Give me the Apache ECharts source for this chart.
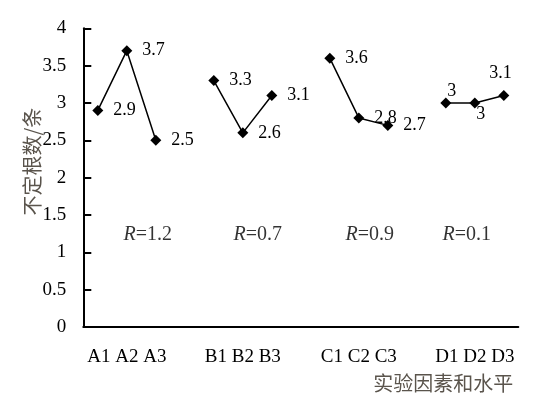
<!DOCTYPE html>
<html>
<head>
<meta charset="utf-8">
<script src="https://cdn.jsdelivr.net/npm/echarts@6/dist/echarts.min.js"></script>
<style>html,body{margin:0;padding:0;background:#fff}#c{width:550px;height:398px}</style>
</head>
<body>
<div id="c"></div>
<script>
// ---- data ----
const levels = ['A1','A2','A3','B1','B2','B3','C1','C2','C3','D1','D2','D3'];
const values = [2.9, 3.7, 2.5, 3.3, 2.6, 3.1, 3.6, 2.8, 2.7, 3, 3, 3.1];
const groupLabels = ['A1 A2 A3', 'B1 B2 B3', 'C1 C2 C3', 'D1 D2 D3'];
const rValues = [1.2, 0.7, 0.9, 0.1];
const yTicks = [0, 0.5, 1, 1.5, 2, 2.5, 3, 3.5, 4];

// ---- build 15-slot category axis (gap slot between factors) ----
const slots = [], slotVals = [], tickLabels = [];
levels.forEach((lv, i) => {
  if (i > 0 && i % 3 === 0) { slots.push('gap' + i); slotVals.push(null); tickLabels.push(''); }
  slots.push(lv); slotVals.push(values[i]);
  tickLabels.push(i % 3 === 1 ? groupLabels[Math.floor(i / 3)] : '');
});

// label placement tweaks (styling only)
const labelOffsets = { D1: [-14, -12], D2: [-14, 11], D3: [-30, -22] };
const lineData = slotVals.map((v, i) => {
  if (v === null) return null;
  const off = labelOffsets[slots[i]];
  return off ? { value: v, label: { offset: off } } : v;
});

const rAnchors = ['A3', 'B3', 'C3', 'D2'];
const rOffsets = [[-8, -3], [-14, -3], [-18, -3], [-8, -3]];
const rData = rValues.map((r, i) => ({
  value: [rAnchors[i], 1.2],
  label: { offset: rOffsets[i] },
  rText: r.toFixed(1)
}));

const serif = '"Liberation Serif", "Times New Roman", serif';
const cjk = '"Noto Sans CJK SC", sans-serif';

const chart = echarts.init(document.getElementById('c'));
chart.setOption({
  animation: false,
  backgroundColor: '#fff',
  grid: { left: 83.3, right: 31.7, top: 28.3, bottom: 70.7 },
  xAxis: {
    type: 'category',
    data: slots,
    boundaryGap: true,
    axisLine: { lineStyle: { color: '#000', width: 2 } },
    axisTick: { inside: true, length: 7, interval: 0, lineStyle: { color: '#000', width: 2 } },
    axisLabel: {
      interval: 0, margin: 21, fontSize: 19, fontFamily: serif, color: '#000',
      formatter: (v, i) => tickLabels[i]
    },
    splitLine: { show: false },
    name: '实验因素和水平',
    nameLocation: 'middle',
    nameMoveOverlap: false,
    nameGap: 46,
    nameTextStyle: { fontSize: 20, fontFamily: cjk, color: '#5a544c', padding: [0, 0, 0, 285] }
  },
  yAxis: {
    type: 'value',
    min: yTicks[0], max: yTicks[yTicks.length - 1], interval: yTicks[1] - yTicks[0],
    axisLine: { show: true, lineStyle: { color: '#000', width: 2 } },
    axisTick: { show: true, inside: true, length: 8, lineStyle: { color: '#000', width: 2 } },
    axisLabel: { margin: 17, fontSize: 19, fontFamily: serif, color: '#000' },
    splitLine: { show: false },
    name: '不定根数/条',
    nameLocation: 'middle',
    nameMoveOverlap: false,
    nameRotate: 90,
    nameGap: 41,
    nameTextStyle: { fontSize: 20, fontFamily: cjk, color: '#5a544c', padding: [0, 0, 0, 32] }
  },
  series: [
    {
      type: 'line',
      data: lineData,
      connectNulls: false,
      symbol: 'diamond',
      symbolSize: 11,
      lineStyle: { color: '#000', width: 1.5 },
      itemStyle: { color: '#000' },
      label: {
        show: true, position: 'right', distance: 10,
        fontSize: 18, fontFamily: serif, color: '#000'
      }
    },
    {
      type: 'scatter',
      data: rData,
      symbolSize: 0,
      silent: true,
      label: {
        show: true, position: 'inside', color: '#000',
        formatter: p => '{i|R}{t|=' + p.data.rText + '}',
        rich: {
          i: { fontSize: 20, fontFamily: serif, fontStyle: 'italic', color: '#000' },
          t: { fontSize: 20, fontFamily: serif, color: '#000' }
        }
      }
    }
  ]
});
</script>
</body>
</html>
